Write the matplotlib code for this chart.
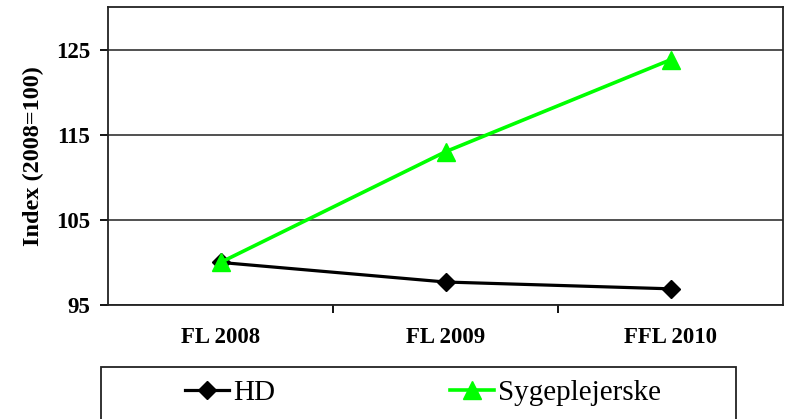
import matplotlib
matplotlib.use("Agg")
import matplotlib.pyplot as plt
from matplotlib.patches import Rectangle

# data
categories = ["FL 2008", "FL 2009", "FFL 2010"]
hd_values = [100.0, 97.7, 96.9]
syge_values = [100.0, 113.0, 123.8]
y_ticks = [95, 105, 115, 125]

plt.rcParams['font.family'] = ['Liberation Serif', 'DejaVu Serif']

W, H = 785, 419
fig = plt.figure(figsize=(W / 100, H / 100), dpi=100)
ax = fig.add_axes([108 / W, 1 - 305 / H, (783 - 108) / W, (305 - 7) / H])

x = list(range(len(categories)))
ax.plot(x, hd_values, color='black', lw=2.3, marker='D', ms=9,
        label='HD', zorder=3)
ax.plot(x, syge_values, color='#00ff00', lw=2.6, marker='^', ms=13,
        label='Sygeplejerske', zorder=4)

ax.set_xlim(-0.5, 2.5)
ax.set_ylim(95, 130)
ax.set_yticks(y_ticks)
ax.set_yticklabels([str(v) for v in y_ticks], fontsize=16.5, fontweight='bold')
ax.set_xticks(x)
ax.set_xticklabels(categories, fontsize=16.5, fontweight='bold')
ax.set_xticks([0.5, 1.5], minor=True)
ax.tick_params(axis='x', which='major', length=0, pad=16)
ax.tick_params(axis='x', which='minor', length=6, width=1.3, direction='out')
ax.tick_params(axis='y', length=6, width=1.3, direction='out', pad=7)

ax.yaxis.grid(True, color='#222222', lw=1.1)
ax.set_axisbelow(True)
for s in ax.spines.values():
    s.set_linewidth(1.3)
    s.set_color('#222222')

ax.set_ylabel("Index (2008=100)", fontsize=17.5, fontweight='bold')
ax.yaxis.set_label_coords(-(108 - 44) / (783 - 108), 0.5)

# legend box at the bottom, cut off by the figure edge
box = Rectangle((101 / W, -0.05), (736 - 101) / W, (419 - 367) / H + 0.05,
                transform=fig.transFigure, fill=False, lw=1.3,
                edgecolor='#222222', clip_on=False)
fig.patches.append(box)
fig.legend(loc='center left', bbox_to_anchor=(185 / W, 1 - 393 / H),
           ncol=2, frameon=False, fontsize=21, handlelength=1.5,
           handletextpad=0.14, columnspacing=6.0, borderaxespad=0,
           borderpad=0)

fig.savefig("out.png", dpi=100)
